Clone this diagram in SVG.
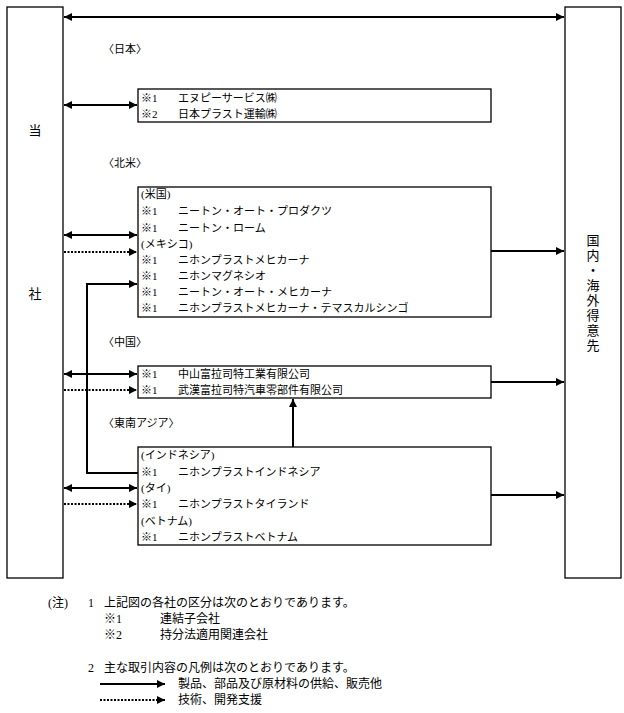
<svg xmlns="http://www.w3.org/2000/svg" width="624" height="713" viewBox="0 0 624 713">
<style>
text{font-family:"Liberation Serif","Noto Sans CJK JP",serif;font-size:11px;fill:#000}
.b{fill:#fff;stroke:#000;stroke-width:1.3}
.s{stroke:#000;stroke-width:2;fill:none}
.d{stroke:#000;stroke-width:2;fill:none;stroke-dasharray:2 1.5}
.big{font-size:13px}
</style>
<defs>
<marker id="a" viewBox="0 0 10 10" refX="10" refY="5" markerWidth="4" markerHeight="4" orient="auto-start-reverse"><path d="M0,0L10,5L0,10z" fill="#000"/></marker>
</defs>
<g id="tousha"><rect class="b" x="7" y="7" width="56" height="571"/><text class="big" x="35" y="135" text-anchor="middle">当</text><text class="big" x="35" y="298" text-anchor="middle">社</text></g>
<g id="tokuisaki"><rect class="b" x="565" y="7" width="56" height="571"/>
<text class="big" x="593" text-anchor="middle"><tspan x="593" y="245">国</tspan><tspan x="593" y="260">内</tspan><tspan x="593" y="275">・</tspan><tspan x="593" y="290">海</tspan><tspan x="593" y="305">外</tspan><tspan x="593" y="320">得</tspan><tspan x="593" y="335">意</tspan><tspan x="593" y="350">先</tspan></text></g>
<text x="103" y="53">〈日本〉</text>
<text x="103" y="167">〈北米〉</text>
<text x="103" y="346">〈中国〉</text>
<text x="103" y="427">〈東南アジア〉</text>
<g id="japan"><rect class="b" x="138" y="89" width="353" height="33"/>
<text x="141" y="102">※1</text><text x="178" y="102">エヌピーサービス㈱</text>
<text x="141" y="118">※2</text><text x="178" y="118">日本プラスト運輸㈱</text></g>
<g id="na"><rect class="b" x="138" y="187" width="353" height="130"/>
<text x="141" y="198">(米国)</text>
<text x="141" y="215">※1</text><text x="178" y="215">ニートン・オート・プロダクツ</text>
<text x="141" y="232">※1</text><text x="178" y="232">ニートン・ローム</text>
<text x="141" y="248">(メキシコ)</text>
<text x="141" y="264">※1</text><text x="178" y="264">ニホンプラストメヒカーナ</text>
<text x="141" y="280">※1</text><text x="178" y="280">ニホンマグネシオ</text>
<text x="141" y="296">※1</text><text x="178" y="296">ニートン・オート・メヒカーナ</text>
<text x="141" y="312">※1</text><text x="178" y="312">ニホンプラストメヒカーナ・テマスカルシンゴ</text></g>
<g id="china"><rect class="b" x="138" y="366" width="353" height="32"/>
<text x="141" y="378">※1</text><text x="178" y="378">中山富拉司特工業有限公司</text>
<text x="141" y="394">※1</text><text x="178" y="394">武漢富拉司特汽車零部件有限公司</text></g>
<g id="sea"><rect class="b" x="138" y="447" width="353" height="98"/>
<text x="141" y="459">(インドネシア)</text>
<text x="141" y="476">※1</text><text x="178" y="476">ニホンプラストインドネシア</text>
<text x="141" y="492">(タイ)</text>
<text x="141" y="508">※1</text><text x="178" y="508">ニホンプラストタイランド</text>
<text x="141" y="525">(ベトナム)</text>
<text x="141" y="541">※1</text><text x="178" y="541">ニホンプラストベトナム</text></g>
<g id="connectors">
<line class="s" x1="64" y1="17" x2="564" y2="17" marker-start="url(#a)" marker-end="url(#a)"/>
<line class="s" x1="64" y1="105" x2="137" y2="105" marker-start="url(#a)" marker-end="url(#a)"/>
<line class="s" x1="64" y1="235" x2="137" y2="235" marker-start="url(#a)" marker-end="url(#a)"/>
<line class="d" x1="64" y1="252" x2="137" y2="252" marker-end="url(#a)"/>
<line class="s" x1="491" y1="251" x2="564" y2="251" marker-end="url(#a)"/>
<polyline class="s" points="138,473 87,473 87,284 137,284" marker-end="url(#a)"/>
<line class="s" x1="64" y1="374" x2="137" y2="374" marker-start="url(#a)" marker-end="url(#a)"/>
<line class="d" x1="64" y1="390" x2="137" y2="390" marker-end="url(#a)"/>
<line class="s" x1="491" y1="382" x2="564" y2="382" marker-end="url(#a)"/>
<line class="s" x1="293" y1="447" x2="293" y2="399" marker-end="url(#a)"/>
<line class="s" x1="64" y1="488" x2="137" y2="488" marker-start="url(#a)" marker-end="url(#a)"/>
<line class="d" x1="64" y1="504" x2="137" y2="504" marker-end="url(#a)"/>
<line class="s" x1="491" y1="495" x2="564" y2="495" marker-end="url(#a)"/>
<line class="s" x1="100" y1="684" x2="165" y2="684" marker-end="url(#a)"/>
<line class="d" x1="100" y1="700" x2="165" y2="700" marker-end="url(#a)"/>
</g>
<g id="notes" font-size="12">
<text x="48" y="607" style="font-size:12px">(注)</text><text x="88" y="607" style="font-size:12px">1</text><text x="104" y="607" style="font-size:12px">上記図の各社の区分は次のとおりであります。</text>
<text x="104" y="623" style="font-size:12px">※1</text><text x="160" y="623" style="font-size:12px">連結子会社</text>
<text x="104" y="639" style="font-size:12px">※2</text><text x="160" y="639" style="font-size:12px">持分法適用関連会社</text>
<text x="88" y="672" style="font-size:12px">2</text><text x="104" y="672" style="font-size:12px">主な取引内容の凡例は次のとおりであります。</text>
<text x="178" y="688" style="font-size:12px">製品、部品及び原材料の供給、販売他</text>
<text x="178" y="704" style="font-size:12px">技術、開発支援</text>
</g>
</svg>
